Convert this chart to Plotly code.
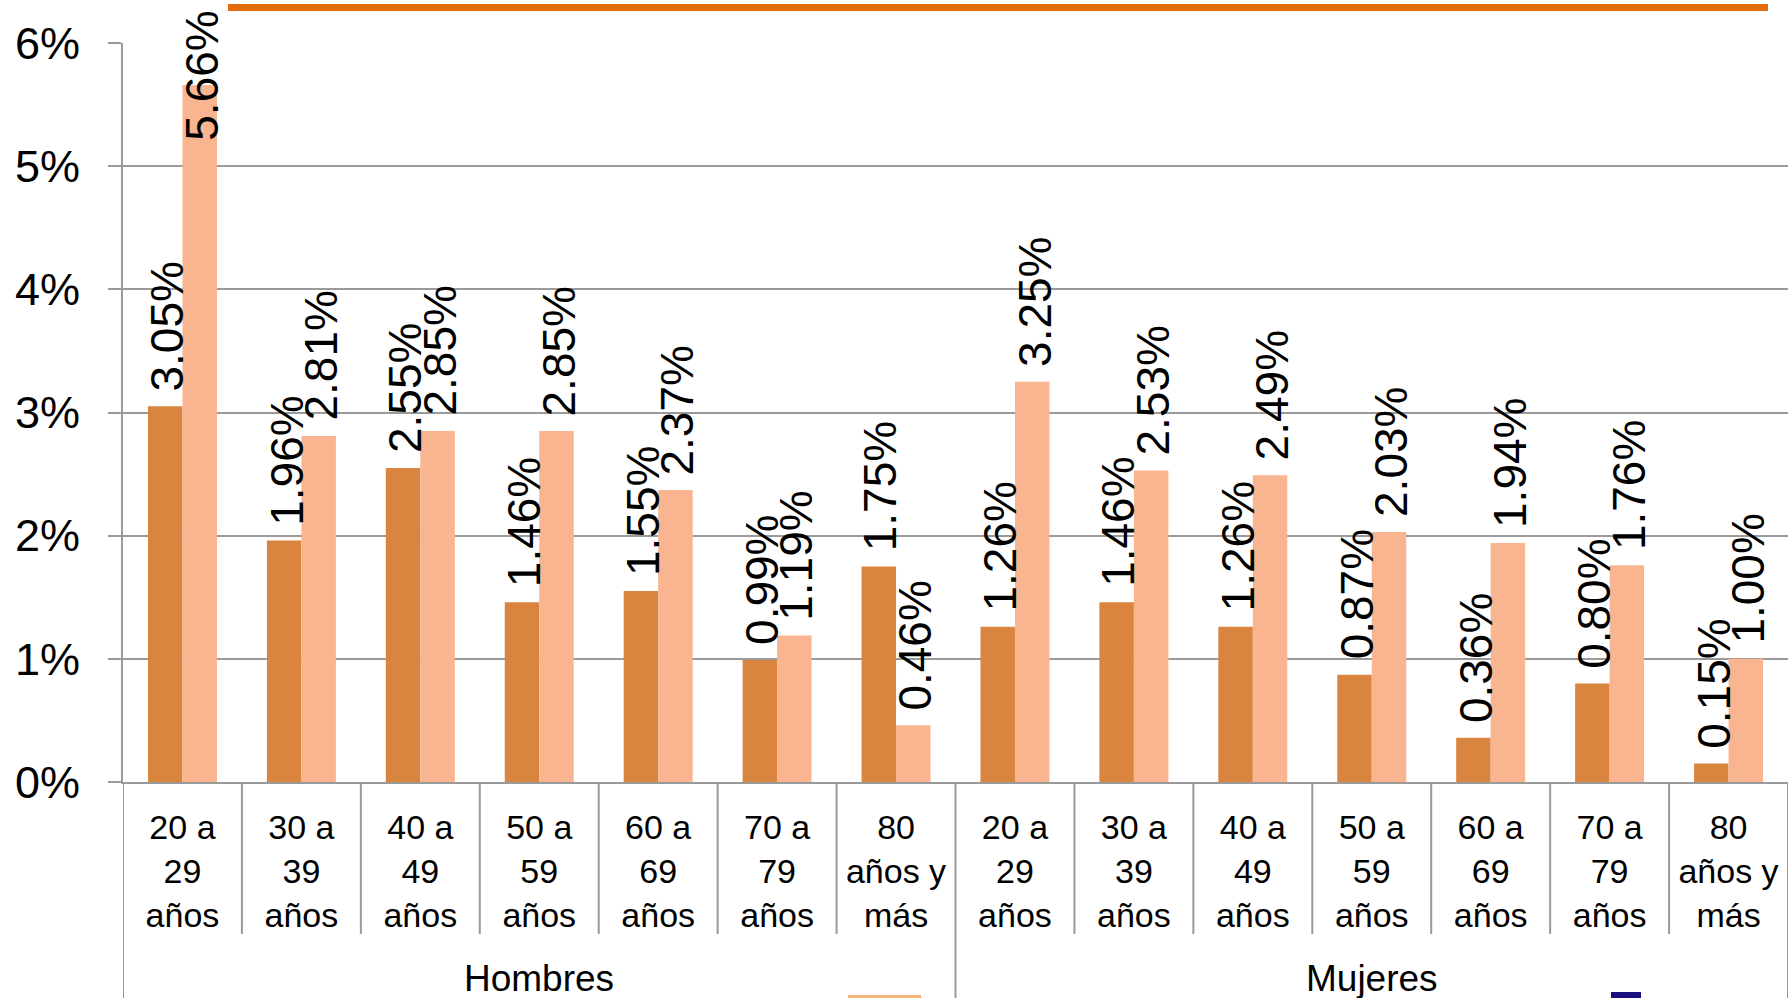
import plotly.graph_objects as go

# ---------------- data ----------------
groups = ["Hombres", "Mujeres"]
age_labels = ["20 a<br>29<br>años", "30 a<br>39<br>años", "40 a<br>49<br>años",
              "50 a<br>59<br>años", "60 a<br>69<br>años", "70 a<br>79<br>años",
              "80<br>años y<br>más"]
series_a = [3.05, 1.96, 2.55, 1.46, 1.55, 0.99, 1.75,
            1.26, 1.46, 1.26, 0.87, 0.36, 0.80, 0.15]
series_b = [5.66, 2.81, 2.85, 2.85, 2.37, 1.19, 0.46,
            3.25, 2.53, 2.49, 2.03, 1.94, 1.76, 1.00]
y_ticks = [0, 1, 2, 3, 4, 5, 6]
y_tick_text = ["0%", "1%", "2%", "3%", "4%", "5%", "6%"]

# ---------------- layout constants ----------------
OFF = 0                      # page body margin (removed via post_script)
W, H = 1788 - OFF, 998 - OFF
M_L, M_R, M_T, M_B = 123 - OFF, 0, 43 - OFF, 216
PLOT_H = H - M_T - M_B
PLOT_W = W - M_L - M_R
Y_MAX = 6
BAR_W = 0.29
COL_A = "#D9843F"
COL_B = "#F8B590"
GRID = "#9A9A9A"
FONT = "Liberation Sans, Arial, sans-serif"
LABEL_SIZE = 46


def py(page_y):
    """page pixel y -> paper coordinate"""
    return 1 - (page_y - OFF - M_T) / PLOT_H


def px(page_x):
    return (page_x - OFF - M_L) / PLOT_W


n_per_group = len(age_labels)
n = n_per_group * len(groups)
xs = list(range(n))
tick_text = age_labels * len(groups)

fig = go.Figure()
fig.add_trace(go.Bar(x=xs, y=series_a, width=BAR_W, offset=-BAR_W,
                     marker=dict(color=COL_A, line=dict(width=0)),
                     name="Serie 1", hoverinfo="y"))
fig.add_trace(go.Bar(x=xs, y=series_b, width=BAR_W, offset=0,
                     marker=dict(color=COL_B, line=dict(width=0)),
                     name="Serie 2", hoverinfo="y"))

# data labels (rotated), clamped to top of the figure if they would overflow
annotations = []
px_per_unit = PLOT_H / Y_MAX
label_len = 2.85 * LABEL_SIZE
for vals, sign in ((series_a, -1), (series_b, 1)):
    for i, v in enumerate(vals):
        txt = f"{v:.2f}%"
        top_px = M_T + (Y_MAX - v) * px_per_unit
        common = dict(x=i + sign * BAR_W / 2, xref="x", xshift=2, text=txt,
                      textangle=-90, showarrow=False,
                      font=dict(size=LABEL_SIZE, color="black", family=FONT))
        if top_px - 15 - label_len < 0:
            annotations.append(dict(y=py(9), yref="paper", yanchor="top", **common))
        else:
            annotations.append(dict(y=v, yref="y", yanchor="bottom", yshift=13, **common))

# group labels
for g, name in enumerate(groups):
    center = g * n_per_group + (n_per_group - 1) / 2
    annotations.append(dict(x=center, xref="x", y=py(979), yref="paper",
                            yanchor="middle", text=name, showarrow=False,
                            font=dict(size=37, color="black", family=FONT)))

shapes = []
for b in range(n + 1):
    xb = b - 0.5
    is_group = (b % n_per_group == 0)
    shapes.append(dict(type="line", xref="x", yref="paper", x0=xb, x1=xb,
                       y0=0, y1=py(1010) if is_group else py(934),
                       line=dict(color=GRID, width=2)))
# top decorative orange rule
shapes.append(dict(type="line", xref="paper", yref="paper",
                   x0=px(228), x1=px(1768), y0=py(7.5), y1=py(7.5),
                   line=dict(color="#E46C0A", width=7)))
# cut-off legend fragments at the bottom edge
shapes.append(dict(type="rect", xref="paper", yref="paper",
                   x0=px(848), x1=px(921), y0=py(1000), y1=py(995),
                   fillcolor="#F3B57A", line=dict(width=0)))
shapes.append(dict(type="rect", xref="paper", yref="paper",
                   x0=px(1611), x1=px(1641), y0=py(1000), y1=py(992),
                   fillcolor="#1B1080", line=dict(width=0)))

fig.update_layout(
    width=W, height=H,
    margin=dict(l=M_L, r=M_R, t=M_T, b=M_B, pad=0),
    paper_bgcolor="white", plot_bgcolor="white",
    barmode="overlay",
    showlegend=False,
    font=dict(family=FONT, color="black"),
    annotations=annotations,
    shapes=shapes,
    xaxis=dict(range=[-0.5, n - 0.5], tickvals=xs, ticktext=tick_text,
               tickfont=dict(size=34, family=FONT, color="black"),
               showgrid=False, zeroline=False, showline=True,
               linecolor=GRID, linewidth=2, ticks="", ticklabelstandoff=14),
    yaxis=dict(range=[0, Y_MAX], tickvals=y_ticks, ticktext=y_tick_text,
               tickfont=dict(size=45, family=FONT, color="black"),
               showgrid=True, gridcolor=GRID, gridwidth=2, zeroline=False,
               showline=True, linecolor=GRID, linewidth=2,
               ticks="outside", ticklen=13, tickcolor=GRID, tickwidth=2,
               ticklabelstandoff=19),
)

fig.write_html("out.html",
               config={"displayModeBar": False},
               post_script="document.body.style.margin='0';"
                           "document.body.style.overflow='hidden';")
